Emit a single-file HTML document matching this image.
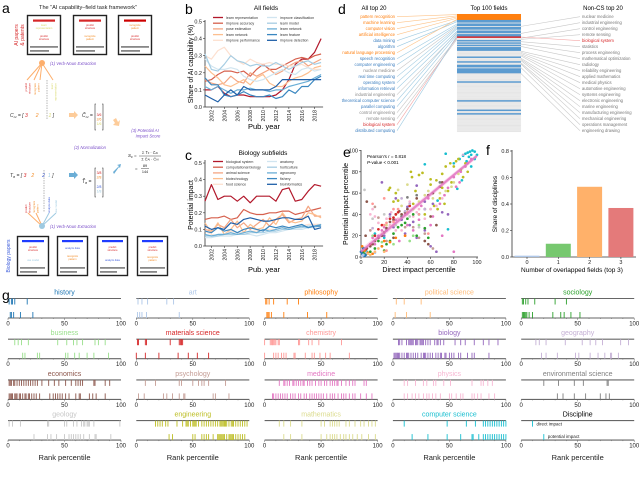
<!DOCTYPE html>
<html><head><meta charset="utf-8">
<style>
html,body{margin:0;padding:0;background:#fff;}
svg{display:block;font-family:"Liberation Sans",sans-serif;}
</style></head>
<body>
<svg id="fig" width="640" height="478" viewBox="0 0 640 478" xmlns="http://www.w3.org/2000/svg">
<!-- Panel letters -->
<text x="2" y="13" font-size="14">a</text>
<text x="185" y="14" font-size="14">b</text>
<text x="185" y="160" font-size="14">c</text>
<text x="338" y="14" font-size="14">d</text>
<text x="343" y="157" font-size="14">e</text>
<text x="486" y="155" font-size="14">f</text>
<text x="2" y="300" font-size="14">g</text>

<!-- Panel a: framework diagram -->
<g id="panelA">
<text x="88" y="9" font-size="5.6" text-anchor="middle" fill="#222">The “AI capability–field task framework”</text>
<text transform="translate(18,35) rotate(-90)" font-size="5" fill="#d62728" text-anchor="middle">AI papers</text>
<text transform="translate(24,35) rotate(-90)" font-size="5" fill="#d62728" text-anchor="middle">&amp; patents</text>
<g>
<rect x="27.5" y="15.5" width="33" height="39" fill="#fff" stroke="#222" stroke-width="1.4"/>
<rect x="33" y="19.5" width="22" height="2.2" fill="#d62728"/>
<text x="44" y="26" font-size="2.6" fill="#d9d96b" text-anchor="middle">learn</text><text x="44" y="29" font-size="2.6" fill="#d9d96b" text-anchor="middle">representation</text>
<text x="44" y="37" font-size="2.6" fill="#d62728" text-anchor="middle">predict</text><text x="44" y="40" font-size="2.6" fill="#d62728" text-anchor="middle">structure</text>
<rect x="30" y="46" width="28" height="1.8" fill="#888"/><rect x="30" y="50" width="19" height="1.8" fill="#888"/>
</g>
<g>
<rect x="73.5" y="15.5" width="33" height="39" fill="#fff" stroke="#222" stroke-width="1.4"/>
<rect x="79" y="19.5" width="22" height="2.2" fill="#d62728"/>
<text x="90" y="26" font-size="2.6" fill="#d62728" text-anchor="middle">predict</text><text x="90" y="29" font-size="2.6" fill="#d62728" text-anchor="middle">structure</text>
<text x="90" y="37" font-size="2.6" fill="#f28e2b" text-anchor="middle">recognize</text><text x="90" y="40" font-size="2.6" fill="#f28e2b" text-anchor="middle">pattern</text>
<rect x="76" y="46" width="28" height="1.8" fill="#888"/><rect x="76" y="50" width="19" height="1.8" fill="#888"/>
</g>
<g>
<rect x="118.5" y="15.5" width="33" height="39" fill="#fff" stroke="#222" stroke-width="1.4"/>
<rect x="124" y="19.5" width="22" height="2.2" fill="#c00"/>
<text x="135" y="26" font-size="2.6" fill="#f28e2b" text-anchor="middle">recognize</text><text x="135" y="29" font-size="2.6" fill="#f28e2b" text-anchor="middle">pattern</text>
<text x="135" y="37" font-size="2.6" fill="#d62728" text-anchor="middle">predict</text><text x="135" y="40" font-size="2.6" fill="#d62728" text-anchor="middle">structure</text>
<rect x="121" y="46" width="28" height="1.8" fill="#888"/><rect x="121" y="50" width="19" height="1.8" fill="#888"/>
</g>
<g stroke="#fdae6b" stroke-width="1">
<line x1="42" y1="63" x2="27" y2="80"/><line x1="42" y1="63" x2="34" y2="80"/><line x1="42" y1="63" x2="40" y2="80"/><line x1="42" y1="63" x2="53" y2="80"/>
</g>
<circle cx="42" cy="63" r="3" fill="#fdae6b"/>
<text x="50" y="65" font-size="4.2" font-style="italic" fill="#7b4fc9">(1) Verb-Noun Extraction</text>
<text transform="translate(27,83) rotate(-90)" font-size="2.8" fill="#d62728" text-anchor="end">predict</text>
<text transform="translate(30.5,83) rotate(-90)" font-size="2.8" fill="#d62728" text-anchor="end">structure</text>
<text transform="translate(36,83) rotate(-90)" font-size="2.8" fill="#f28e2b" text-anchor="end">recognize</text>
<text transform="translate(39.5,83) rotate(-90)" font-size="2.8" fill="#f28e2b" text-anchor="end">pattern</text>
<line x1="47" y1="80" x2="47" y2="120" stroke="#888" stroke-width="0.6" stroke-dasharray="1.5,1"/>
<text transform="translate(53,83) rotate(-90)" font-size="2.8" fill="#d9d96b" text-anchor="end">learn</text>
<text transform="translate(56.5,83) rotate(-90)" font-size="2.8" fill="#d9d96b" text-anchor="end">representation</text>
<text x="10" y="117" font-size="5" font-style="italic" fill="#333">C<tspan font-size="3" dy="1">AI</tspan><tspan dy="-1"> = [ </tspan><tspan fill="#d62728">3</tspan><tspan fill="#f28e2b" dx="8">2</tspan><tspan fill="#d9d96b" dx="10">1</tspan> ]</text>
<polygon points="69,113 74,113 74,111 78,115 74,119 74,117 69,117" fill="#fdcc9a"/>
<text x="82" y="117" font-size="5" font-style="italic" fill="#333">C̃<tspan font-size="3" dy="1">AI</tspan><tspan dy="-1"> =</tspan></text>
<path d="M96,104 h-1 v26 h1 M102,104 h1 v26 h-1" fill="none" stroke="#333" stroke-width="0.6"/>
<text x="99" y="116" font-size="3.4" fill="#d62728" text-anchor="middle">3/6</text>
<text x="99" y="120.5" font-size="3.4" fill="#f28e2b" text-anchor="middle">2/6</text>
<text x="99" y="125" font-size="3.4" fill="#d9d96b" text-anchor="middle">1/6</text>
<polygon points="113,120 116,118 118,122 120,120 119,126 113,125 115,123" fill="#fdcc9a"/>
<text x="145" y="132" font-size="4.2" font-style="italic" fill="#7b4fc9" text-anchor="middle">(3) Potential AI</text>
<text x="148" y="137.5" font-size="4.2" font-style="italic" fill="#7b4fc9" text-anchor="middle">Impact Score</text>
<text x="90" y="149" font-size="4.2" font-style="italic" fill="#7b4fc9" text-anchor="middle">(2) Normalization</text>
<text x="128" y="157" font-size="4.4" font-style="italic" fill="#222">S<tspan font-size="3" dy="1">F</tspan><tspan dy="-1"> = </tspan></text>
<text x="150" y="154" font-size="3.8" fill="#222" text-anchor="middle">Σ T̃<tspan font-size="2.6">F</tspan> · C̃<tspan font-size="2.6">AI</tspan></text>
<line x1="139" y1="156" x2="161" y2="156" stroke="#222" stroke-width="0.4"/>
<text x="150" y="160.5" font-size="3.8" fill="#222" text-anchor="middle">Σ C̃<tspan font-size="2.6">AI</tspan> · C̃<tspan font-size="2.6">AI</tspan></text>
<text x="135" y="170" font-size="4.4" fill="#222">=</text>
<text x="145" y="167" font-size="3.8" fill="#222" text-anchor="middle">89</text>
<line x1="141" y1="168.5" x2="149" y2="168.5" stroke="#222" stroke-width="0.4"/>
<text x="145" y="173" font-size="3.8" fill="#222" text-anchor="middle">144</text>
<text x="10" y="177" font-size="5" font-style="italic" fill="#333">T<tspan font-size="3" dy="1">B</tspan><tspan dy="-1"> = [ </tspan><tspan fill="#d62728">3</tspan><tspan fill="#f28e2b" dx="5">2</tspan><tspan fill="#3b5bdb" dx="8">2</tspan><tspan fill="#9ecae1" dx="3">1</tspan> ]</text>
<line x1="44" y1="170" x2="44" y2="212" stroke="#888" stroke-width="0.6" stroke-dasharray="1.5,1"/>
<polygon points="69,173 74,173 74,171 78,175 74,179 74,177 69,177" fill="#6baed6"/>
<text x="82" y="183" font-size="5" font-style="italic" fill="#333">T̃<tspan font-size="3" dy="1">B</tspan><tspan dy="-1"> =</tspan></text>
<path d="M96,168 h-1 v29 h1 M102,168 h1 v29 h-1" fill="none" stroke="#333" stroke-width="0.6"/>
<text x="99" y="174" font-size="3.4" fill="#d62728" text-anchor="middle">3/8</text>
<text x="99" y="178.5" font-size="3.4" fill="#f28e2b" text-anchor="middle">2/8</text>
<text x="99" y="188" font-size="3.4" fill="#3b5bdb" text-anchor="middle">2/8</text>
<text x="99" y="192.5" font-size="3.4" fill="#9ecae1" text-anchor="middle">1/8</text>
<polygon points="113,172 119,166 117,165 121,164 120,168 119,167 114,174" fill="#6baed6"/>
<text transform="translate(27,213) rotate(-90)" font-size="2.8" fill="#d62728">predict</text>
<text transform="translate(30.5,213) rotate(-90)" font-size="2.8" fill="#d62728">structure</text>
<text transform="translate(35,213) rotate(-90)" font-size="2.8" fill="#f28e2b">recognize</text>
<text transform="translate(38.5,213) rotate(-90)" font-size="2.8" fill="#f28e2b">pattern</text>
<text transform="translate(50,213) rotate(-90)" font-size="2.8" fill="#3b5bdb">analyze data</text>
<text transform="translate(57,213) rotate(-90)" font-size="2.8" fill="#9ecae1">use model</text>
<g stroke-width="1"><line x1="42" y1="226" x2="28" y2="213" stroke="#fdae6b"/><line x1="42" y1="226" x2="36" y2="213" stroke="#fdae6b"/><line x1="42" y1="226" x2="49" y2="213" stroke="#9ecae1"/><line x1="42" y1="226" x2="56" y2="213" stroke="#9ecae1"/></g>
<circle cx="42" cy="226" r="3" fill="#9ecae1"/>
<text x="50" y="228" font-size="4.2" font-style="italic" fill="#7b4fc9">(1) Verb-Noun Extraction</text>
<text transform="translate(10,256) rotate(-90)" font-size="5" fill="#3b5bdb" text-anchor="middle">Biology papers</text>
<g><rect x="17.5" y="236.5" width="31" height="39" fill="#fff" stroke="#222" stroke-width="1.4"/><rect x="22" y="240" width="22" height="2.2" fill="#1f3cff"/><text x="33" y="248" font-size="2.6" fill="#d62728" text-anchor="middle">predict</text><text x="33" y="251" font-size="2.6" fill="#d62728" text-anchor="middle">structure</text><text x="33" y="261" font-size="2.6" fill="#9ecae1" text-anchor="middle">use model</text><rect x="20" y="267" width="25" height="1.8" fill="#888"/><rect x="20" y="271" width="17" height="1.8" fill="#888"/></g>
<g><rect x="57.5" y="236.5" width="30" height="39" fill="#fff" stroke="#222" stroke-width="1.4"/><rect x="62" y="240" width="21" height="2.2" fill="#1f3cff"/><text x="72.5" y="249" font-size="2.6" fill="#3b5bdb" text-anchor="middle">analyze data</text><text x="72.5" y="257" font-size="2.6" fill="#f28e2b" text-anchor="middle">recognize</text><text x="72.5" y="260" font-size="2.6" fill="#f28e2b" text-anchor="middle">pattern</text><rect x="60" y="267" width="25" height="1.8" fill="#888"/><rect x="60" y="271" width="17" height="1.8" fill="#888"/></g>
<g><rect x="97.5" y="236.5" width="30" height="39" fill="#fff" stroke="#222" stroke-width="1.4"/><rect x="102" y="240" width="21" height="2.2" fill="#1f3cff"/><text x="112.5" y="248" font-size="2.6" fill="#d62728" text-anchor="middle">predict</text><text x="112.5" y="251" font-size="2.6" fill="#d62728" text-anchor="middle">structure</text><text x="112.5" y="261" font-size="2.6" fill="#3b5bdb" text-anchor="middle">analyze data</text><rect x="100" y="267" width="25" height="1.8" fill="#888"/><rect x="100" y="271" width="17" height="1.8" fill="#888"/></g>
<g><rect x="137.5" y="236.5" width="30" height="39" fill="#fff" stroke="#222" stroke-width="1.4"/><rect x="142" y="240" width="21" height="2.2" fill="#1f3cff"/><text x="152.5" y="248" font-size="2.6" fill="#d62728" text-anchor="middle">predict</text><text x="152.5" y="251" font-size="2.6" fill="#d62728" text-anchor="middle">structure</text><text x="152.5" y="258" font-size="2.6" fill="#f28e2b" text-anchor="middle">recognize</text><text x="152.5" y="261" font-size="2.6" fill="#f28e2b" text-anchor="middle">pattern</text><rect x="140" y="267" width="25" height="1.8" fill="#888"/><rect x="140" y="271" width="17" height="1.8" fill="#888"/></g>
</g>

<!-- static titles -->
<text x="266" y="10" font-size="6.5" text-anchor="middle">All fields</text>
<text x="264" y="129" font-size="7.5" text-anchor="middle">Pub. year</text>
<text transform="translate(193,64) rotate(-90)" font-size="7" text-anchor="middle">Share of AI capability (%)</text>
<text x="263" y="155" font-size="6.5" text-anchor="middle">Biology subfields</text>
<text x="264" y="272" font-size="7.5" text-anchor="middle">Pub. year</text>
<text transform="translate(193,205) rotate(-90)" font-size="7" text-anchor="middle">Potential impact</text>
<text x="374" y="10" font-size="6" text-anchor="middle">All top 20</text>
<text x="489" y="10" font-size="6" text-anchor="middle">Top 100 fields</text>
<text x="603" y="10" font-size="6" text-anchor="middle">Non-CS top 20</text>
<text x="419" y="272" font-size="7" text-anchor="middle">Direct impact percentile</text>
<text transform="translate(348,204) rotate(-90)" font-size="7" text-anchor="middle">Potential impact percentile</text>
<text x="367" y="158" font-size="4.5">Pearson's <tspan font-style="italic">r</tspan> = 0.818</text>
<text x="367" y="164" font-size="4.5"><tspan font-style="italic">P</tspan>-value &lt; 0.001</text>
<text x="572" y="272" font-size="6.5" text-anchor="middle">Number of overlapped fields (top 3)</text>
<text transform="translate(497,204) rotate(-90)" font-size="6.5" text-anchor="middle">Share of disciplines</text>
<g id="dyn"></g>
</svg>
<script>
// ---------- Panel b data ----------
const years = [2001,2002,2003,2004,2005,2006,2007,2008,2009,2010,2011,2012,2013,2014,2015,2016,2017,2018,2019];
const yearTicks = [2002,2004,2006,2008,2010,2012,2014,2016,2018];
const shareTicks = [0.0,0.1,0.2,0.3,0.4,0.5];
const bNames = ["learn representation","improve accuracy","pose estimation","learn network","improve performance","improve classification","learn model","learn network","learn feature","improve detection"];
const bColors = ["#b2182b","#d6604d","#f4a582","#fdbf8f","#fde0d0","#d1e5f0","#a6cde3","#6aaed6","#3a87c0","#1f5fa8"];
const b0 = [0.10,0.10,0.12,0.08,0.06,0.07,0.07,0.06,0.06,0.06,0.06,0.07,0.10,0.16,0.25,0.28,0.28,0.32,0.40];
const b1 = [0.15,0.16,0.19,0.21,0.21,0.20,0.21,0.18,0.22,0.25,0.22,0.22,0.24,0.26,0.28,0.29,0.28,0.30,0.31];
const b2 = [0.16,0.14,0.13,0.14,0.18,0.15,0.14,0.20,0.18,0.20,0.22,0.19,0.21,0.24,0.26,0.27,0.24,0.26,0.28];
const b3 = [0.24,0.20,0.17,0.13,0.12,0.14,0.16,0.13,0.17,0.19,0.14,0.12,0.12,0.15,0.17,0.18,0.20,0.23,0.24];
const b4 = [0.30,0.28,0.33,0.35,0.30,0.27,0.25,0.28,0.26,0.25,0.26,0.25,0.25,0.24,0.24,0.25,0.23,0.22,0.22];
const b5 = [0.28,0.24,0.22,0.22,0.23,0.22,0.18,0.16,0.15,0.16,0.18,0.20,0.22,0.20,0.19,0.22,0.23,0.21,0.22];
const b6 = [0.31,0.22,0.21,0.25,0.30,0.27,0.26,0.24,0.25,0.24,0.24,0.26,0.24,0.22,0.24,0.26,0.27,0.25,0.26];
const b7 = [0.12,0.10,0.12,0.10,0.08,0.10,0.10,0.11,0.10,0.10,0.09,0.10,0.10,0.12,0.13,0.14,0.15,0.17,0.19];
const b8 = [0.17,0.13,0.13,0.07,0.06,0.07,0.09,0.07,0.06,0.06,0.07,0.05,0.06,0.10,0.08,0.12,0.12,0.16,0.18];
const b9 = [0.07,0.05,0.03,0.07,0.10,0.07,0.12,0.10,0.10,0.10,0.10,0.12,0.16,0.16,0.16,0.16,0.16,0.16,0.16];
const bSeries = [b0,b1,b2,b3,b4,b5,b6,b7,b8,b9];
// ---------- Panel c data ----------
const cNames = ["biological system","computational biology","animal science","biotechnology","food science","anatomy","horticulture","agronomy","fishery","bioinformatics"];
const c0 = [0.27,0.37,0.28,0.30,0.30,0.27,0.30,0.26,0.30,0.30,0.30,0.27,0.34,0.35,0.27,0.28,0.33,0.37,0.36];
const c1 = [0.16,0.17,0.17,0.18,0.16,0.17,0.22,0.20,0.19,0.19,0.20,0.20,0.21,0.21,0.19,0.20,0.21,0.22,0.23];
const c2 = [0.10,0.09,0.13,0.11,0.16,0.11,0.14,0.10,0.13,0.16,0.12,0.16,0.19,0.14,0.16,0.17,0.24,0.18,0.18];
const c3 = [0.14,0.08,0.14,0.07,0.10,0.15,0.08,0.13,0.10,0.11,0.17,0.13,0.20,0.15,0.14,0.15,0.20,0.19,0.17];
const c4 = [0.09,0.07,0.06,0.07,0.09,0.08,0.08,0.09,0.09,0.10,0.10,0.10,0.11,0.11,0.12,0.12,0.13,0.13,0.13];
const c5 = [0.05,0.05,0.06,0.06,0.06,0.07,0.07,0.07,0.06,0.07,0.08,0.08,0.09,0.10,0.10,0.10,0.11,0.11,0.12];
const c6 = [0.06,0.06,0.06,0.07,0.07,0.07,0.07,0.08,0.08,0.08,0.09,0.09,0.10,0.10,0.11,0.11,0.12,0.12,0.13];
const c7 = [0.07,0.06,0.07,0.07,0.08,0.07,0.08,0.09,0.08,0.10,0.09,0.10,0.11,0.10,0.11,0.12,0.11,0.12,0.13];
const c8 = [0.09,0.08,0.11,0.09,0.10,0.08,0.10,0.11,0.10,0.09,0.12,0.11,0.12,0.11,0.12,0.13,0.11,0.12,0.12];
const c9 = [0.12,0.10,0.11,0.10,0.14,0.13,0.16,0.17,0.16,0.15,0.15,0.16,0.17,0.17,0.16,0.16,0.18,0.10,0.11];
const cSeries = [c0,c1,c2,c3,c4,c5,c6,c7,c8,c9];
// ---------- Panel d data ----------
const allTop20 = ["pattern recognition","machine learning","computer vision","artificial intelligence","data mining","algorithm","natural language processing","speech recognition","computer engineering","nuclear medicine","real time computing","operating system","information retrieval","industrial engineering","theoretical computer science","parallel computing","control engineering","remote sensing","biological system","distributed computing"];
const allTop20Type = ["ai","ai","ai","ai","cs","cs","ai","cs","cs","other","cs","cs","cs","other","cs","cs","other","other","bio","cs"];
const allTop20Rank = [0,1,2,3,5,6,4,8,9,10,11,12,14,16,15,17,20,21,19,18];
const nonCsTop20 = ["nuclear medicine","industrial engineering","control engineering","remote sensing","biological system","statistics","process engineering","mathematical optimization","radiology","reliability engineering","applied mathematics","medical physics","automotive engineering","systems engineering","electronic engineering","marine engineering","manufacturing engineering","mechanical engineering","operations management","engineering drawing"];
const nonCsRank = [10,16,20,21,19,23,25,27,31,32,33,34,35,37,38,39,41,42,45,50];
const aiRows = [0,1,2,3,4];
const csRows = [5,6,8,9,11,12,14,15,17,18,22,24,26,28,29,30,36,40,43,44,46,47,48,49,57,73,81,84];
const bioRows = [19];
// ---------- Panel e data (direct, potential, discipline index) ----------
const eDirect = [], ePotential = [], eDisc = [];
const ePts = [
[88,95,18],[90,97,18],[92,98,18],[94,99,18],[96,100,18],[98,99,18],[95,96,18],[93,94,18],[85,92,18],[73,97,18],[80,88,18],[55,87,18],[66,53,18],[87,72,18],[50,40,18],[75,26,18],[5,5,18],[2,2,18],[3,8,18],[1,3,18],[12,22,18],[20,18,18],[95,85,18],[98,92,18],[83,64,18],[91,90,18],[100,96,18],
[43,80,16],[44,75,16],[50,77,16],[53,79,16],[60,73,16],[60,68,16],[65,72,16],[70,78,16],[73,85,16],[77,88,16],[80,85,16],[82,90,16],[84,92,16],[86,82,16],[78,70,16],[75,62,16],[68,55,16],[66,45,16],[55,40,16],[47,62,16],[45,50,16],[30,60,16],[32,53,16],[25,65,16],[24,63,16],[28,52,16],[70,65,16],[88,75,16],[90,88,16],[92,80,16],[72,50,16],[63,48,16],
[32,63,17],[40,68,17],[55,58,17],[58,62,17],[62,55,17],[68,60,17],[73,62,17],[78,66,17],[84,78,17],[90,85,17],[35,48,17],[45,45,17],[50,52,17],[22,30,17],[60,45,17],[80,70,17],
[18,70,8],[30,55,8],[48,67,8],[55,52,8],[62,50,8],[70,42,8],[75,40,8],[40,47,8],[35,35,8],[45,33,8],[38,22,8],[48,18,8],[55,25,8],[60,10,8],[65,5,8],[42,30,8],[28,28,8],[22,25,8],[25,40,8],[20,20,8],
[90,85,12],[92,88,12],[80,75,12],[86,80,12],[85,70,12],[82,66,12],[75,65,12],[72,58,12],[68,50,12],[58,55,12],[55,45,12],[50,35,12],[40,30,12],[38,40,12],[30,35,12],[20,28,12],[18,25,12],[15,20,12],[10,18,12],[12,12,12],[60,30,12],[45,25,12],[33,15,12],[80,5,12],[70,20,12],[52,48,12],[62,38,12],[95,92,12],
[25,30,13],[30,25,13],[35,38,13],[40,40,13],[45,38,13],[42,52,13],[50,45,13],[55,36,13],[60,45,13],[65,48,13],[70,55,13],[10,45,13],[8,40,13],[12,38,13],[8,25,13],[15,32,13],[22,36,13],[26,42,13],[32,36,13],[38,20,13],[28,30,13],[35,25,13],[48,42,13],[18,22,13],
[2,5,10],[5,8,10],[8,10,10],[10,12,10],[12,15,10],[15,18,10],[18,20,10],[20,23,10],[22,27,10],[25,33,10],[28,35,10],[30,40,10],[33,43,10],[35,40,10],[38,42,10],[40,45,10],[48,55,10],[58,58,10],[62,60,10],[68,66,10],[70,70,10],[60,38,10],[5,52,10],[65,30,10],[55,15,10],[58,12,10],[4,20,10],[28,18,10],
[15,37,11],[12,47,11],[8,25,11],[45,28,11],[50,18,11],[55,22,11],[38,28,11],[22,15,11],[62,8,11],
[1,2,4],[2,4,4],[4,3,4],[3,6,4],[8,5,4],[12,8,4],[18,10,4],[22,12,4],[25,15,4],[28,22,4],[32,28,4],[35,30,4],[38,32,4],[40,36,4],[45,40,4],[48,20,4],[55,27,4],[58,18,4],[20,6,4],[15,15,4],
[10,20,5],[18,14,5],[28,12,5],[45,20,5],[50,30,5],[42,15,5],[30,40,5],
[1,1,6],[4,7,6],[8,12,6],[12,20,6],[15,26,6],[18,30,6],[25,36,6],[28,37,6],[30,40,6],[32,42,6],[42,48,6],
[20,30,7],[22,32,7],[28,33,7],[32,45,7],[40,42,7],[50,40,7],[10,50,7],[20,55,7],[28,45,7],[58,22,7],[22,6,7],
[1,3,0],[2,8,0],[3,1,0],[0,5,0],[4,2,0],
[1,1,1],[2,2,1],[5,4,1],[12,4,1],
[1,10,2],[3,6,2],[6,4,2],[10,3,2],[18,10,2],[25,14,2],[30,18,2],[38,20,2],[20,15,2],
[6,3,3],[8,2,3],[12,5,3],[20,5,3],[15,8,3],
[40,56,14],[48,58,14],[55,45,14],[35,38,14],[68,70,14],
[3,63,15],[10,36,15],[20,40,15],[42,38,15],[30,30,15],[50,28,15],
[10,27,9],[38,43,9],[42,50,9],[55,45,9],[25,38,9],[35,55,9],[88,96,9]];
ePts.forEach(p=>{eDirect.push(p[0]);ePotential.push(p[1]);eDisc.push(p[2]);});
const regIntercept = 5, regSlope = 0.9;
const pctTicks = [0,20,40,60,80,100];
// ---------- Panel f data ----------
const fCats = ["0","1","2","3"];
const fVals = [0.01,0.10,0.53,0.37];
const fColors = ["#aec7e8","#77c86f","#ffb16a","#e47a7a"];
const fTicks = [0.0,0.2,0.4,0.6,0.8];
// ---------- Panel g data ----------
const gNames = ["history","art","philosophy","political science","sociology","business","materials science","chemistry","biology","geography","economics","psychology","medicine","physics","environmental science","geology","engineering","mathematics","computer science","Discipline"];
const gColors = ["#1f77b4","#aec7e8","#ff7f0e","#ffbb78","#2ca02c","#98df8a","#d62728","#ff9896","#9467bd","#c5b0d5","#8c564b","#c49c94","#e377c2","#f7b6d2","#7f7f7f","#c7c7c7","#bcbd22","#dbdb8d","#17becf","#000000"];
const gDirect = [
[1,3,4,6,17],[1.5,5,10,27,33],[1,2,4,8,20,30],[3,10,25],[1,2,4,6,12,30,40],
[6,9,12,18,44,52,58,61,66,77,80,86],[1,2,8,9,30,38,39,40,41],[0,5,6,7,8,9,10,12,13,30,31,39,42,48,68],[5,6,8,12,14,15,16,17,18,20,21,22,24,25,26,27,29,31,33,37,39,40,42,45,55,60,64,72,80,85,93],[13,16,22,39,54,61,66,72,88,95],
[1,2,3,5,6,8,10,12,14,16,18,20,22,24,26,30,36,41,45,51,56,60,62,64,66,76,77,86,90],[8,17,38,40,50,55,58,60,64,79],[13,17,18,20,22,25,26,28,30,32,34,35,38,40,42,45,48,50,53,55,58,60,62,64,65,68,72,75,78,80,88,90],[10,13,20,27,30,36,38,45,51,70,78,80,84,88],[20,33,47,55,76,77],
[1,4,11,35,36,50,52,58,61,65,67,68,70,71,72,76,99],[17,19,21,23,26,28,36,41,44,45,46,48,50,51,52,53,55,58,60,62,64,66,68,70,72,74,75,76,77,78,79,80,82,84,85,86,88,90,92,94,96,98],[13,17,23,33,50,53,58,60,62,64,66,72,75,80,85,88,92,95,98],[10,48,65,73,80,82,84,86,88,90,92,94,96,98,100],[10]];
const gPotential = [
[2,3,5,11,22],[1,3,5,9,38],[2,3,4,6,17,38,55],[2,12,33],[1,2,3,4,5,7,10,28,35,38,44,52],
[13,15,26,28,51,53,59,63,70,76,89],[0,8,20,37,46,54,64],[0,8,10,12,15,17,19,26,27,36,42,44,49,54,58,75],[1,2,3,4,5,6,8,10,12,13,14,16,18,20,22,25,27,28,29,31,33,35,38,40,42,43,46,47,50,52,54,58,60,66,70,72,85],[18,22,32,48,51,61,68,74,79,80,86],
[1,2,3,4,6,7,8,10,11,13,15,16,18,19,21,23,25,28,37,40,42,44,46,48,51,54,60,63,64,72,75,78,86],[2,7,24,27,32,38,42,43,68,70,82],[7,8,10,12,14,16,18,20,23,25,27,30,32,35,37,40,42,44,46,48,50,52,55,58,60,62,65,68,70,72,75,78,80,85,90,95],[10,13,17,20,23,27,30,32,35,38,42,50,52,56,60,62,70,72,75,78,85,90],[32,37,47,57,70,75,78],
[23,35,38,43,50,54,56,58,60,62,64,67,72,77,78,91],[29,32,50,52,58,60,62,64,68,72,73,74,75,76,77,78,80,82,83,84,85,86,88,90,92,94,96],[17,23,33,50,55,58,60,62,64,67,70,72,75,78,82,86,92,98],[17,31,48,60,70,71,76,80,82,84,86,88,90,92,94,96,98,100],[20]];
const rankTicks = [0,50,100];

// ---------- drawing helpers ----------
const NS = "http://www.w3.org/2000/svg";
const root = document.getElementById("dyn");
function mk(tag, attrs, parent){
  const e = document.createElementNS(NS, tag);
  for (const k in attrs) e.setAttribute(k, attrs[k]);
  (parent||root).appendChild(e);
  return e;
}
function txt(x,y,s,size,anchor,fill,parent){
  const t = mk("text",{x:x,y:y,"font-size":size,"text-anchor":anchor||"start",fill:fill||"#222"},parent);
  t.textContent = s;
  return t;
}

// ---------- line charts b & c ----------
function lineChart(opts){
  const xs = y => opts.x0 + (y - 2001) * 6.45;
  const ys = v => opts.yBase - v * opts.yPer;
  const g = mk("g",{});
  
  
  const ax = mk("path",{d:`M${opts.x0},${opts.yTop} V${opts.yBase} H${xs(2019)+2}`,fill:"none",stroke:"#333","stroke-width":0.8},g);
  
  
  shareTicks.forEach(v=>{
    mk("line",{x1:opts.x0-2,x2:opts.x0,y1:ys(v),y2:ys(v),stroke:"#333","stroke-width":0.6},g);
    const t = txt(opts.x0-3, ys(v)+2, v.toFixed(1), 5.5, "end", "#222", g);
    
    
  });
  yearTicks.forEach(yr=>{
    mk("line",{x1:xs(yr),x2:xs(yr),y1:opts.yBase,y2:opts.yBase+2,stroke:"#333","stroke-width":0.6},g);
    const t = mk("text",{transform:`translate(${xs(yr)+2},${opts.yBase+3}) rotate(-90)`,"font-size":5.2,"text-anchor":"end",fill:"#222"},g);
    t.textContent = yr;
    
    
  });
  opts.series.forEach((s,i)=>{
    const d = s.map((v,j)=>(j?"L":"M")+xs(years[j]).toFixed(1)+","+ys(v).toFixed(1)).join(" ");
    const p = mk("path",{d:d,fill:"none",stroke:bColors[i],"stroke-width":1.2,"stroke-linejoin":"round"},g);
    
    
  });
  opts.names.forEach((n,i)=>{
    const col = i<5?0:1, row = i%5;
    const lx = col? opts.x0+62 : opts.x0+8;
    const ly = opts.legY + row*5.7;
    mk("line",{x1:lx,x2:lx+10,y1:ly,y2:ly,stroke:bColors[i],"stroke-width":1.3},g);
    const t = txt(lx+13, ly+1.3, n, 3.6, "start", "#333", g);
    
    
  });
}
lineChart({name:"all-fields-chart",x0:205,yBase:107,yTop:20,yPer:171,series:bSeries,names:bNames,legY:17.5});
lineChart({name:"biology-subfields-chart",x0:205,yBase:246,yTop:160,yPer:166,series:cSeries,names:cNames,legY:161.5});

// ---------- panel d ----------
const dG = mk("g",{});


const typeColor = {ai:"#ff7f0e",cs:"#3a7dbf",other:"#888",bio:"#d62728"};
const typeLine = {ai:"#fdc48a",cs:"#9ecae1",other:"#c8c8c8",bio:"#f4a6a6"};
const barX = 457, barW = 64, barY = 14, rowH = 1.18;
const rowY = r => barY + r*rowH + rowH/2;
for(let r=0;r<100;r++){
  const rr = mk("rect",{x:barX,y:barY+r*rowH,width:barW,height:rowH,fill:"#e4e4e4",stroke:"#f4f4f4","stroke-width":0.2},dG);
  
  
}
[[aiRows,"#ff7f0e"],[csRows,"#5b9bd0"],[bioRows,"#d62728"]].forEach(([rows,c])=>{
  rows.forEach(r=>{
    const rr = mk("rect",{x:barX,y:barY+r*rowH,width:barW,height:rowH+0.3,fill:c},dG);
    
    
  });
});
allTop20.forEach((n,i)=>{
  const ly = 16.7 + i*6.0;
  const t = txt(395, ly+1.5, n, 4.2, "end", typeColor[allTop20Type[i]], dG);
  
  
  mk("line",{x1:397,y1:ly,x2:barX,y2:rowY(allTop20Rank[i]),stroke:typeLine[allTop20Type[i]],"stroke-width":0.6},dG);
});
nonCsTop20.forEach((n,i)=>{
  const ly = 16.7 + i*6.0;
  const isBio = n==="biological system";
  const t = txt(582, ly+1.5, n, 4.2, "start", isBio?"#d62728":"#777", dG);
  
  
  mk("line",{x1:barX+barW,y1:rowY(nonCsRank[i]),x2:580,y2:ly,stroke:isBio?"#f4a6a6":"#c8c8c8","stroke-width":0.6},dG);
});

// ---------- panel e ----------
const eG = mk("g",{});


const ex = v => 361 + v*1.16, ey = v => 257 - v*1.065;
mk("path",{d:`M361,150 V257 H478`,fill:"none",stroke:"#333","stroke-width":0.8},eG);
pctTicks.forEach(v=>{
  mk("line",{x1:ex(v),x2:ex(v),y1:257,y2:259,stroke:"#333","stroke-width":0.6},eG);
  const t1 = txt(ex(v),264,String(v),5.5,"middle","#222",eG);
  
  
  mk("line",{x1:359,x2:361,y1:ey(v),y2:ey(v),stroke:"#333","stroke-width":0.6},eG);
  const t2 = txt(358,ey(v)+2,String(v),5.5,"end","#222",eG);
  
  
});
const band = mk("path",{d:`M${ex(0)},${ey(regIntercept+3)} L${ex(100)},${ey(regIntercept+regSlope*100+2)} L${ex(100)},${ey(regIntercept+regSlope*100-2)} L${ex(0)},${ey(regIntercept-3)} Z`,fill:"#f6c6e6",opacity:0.7},eG);


for(let i=0;i<eDirect.length;i++){
  const c = mk("circle",{cx:ex(eDirect[i]).toFixed(1),cy:ey(ePotential[i]).toFixed(1),r:1.35,fill:gColors[eDisc[i]]},eG);
  
  
}
const reg = mk("line",{x1:ex(0),y1:ey(regIntercept),x2:ex(100),y2:ey(regIntercept+regSlope*100),stroke:"#e377c2","stroke-width":2.2,opacity:0.85},eG);



// ---------- panel f ----------
const fG = mk("g",{});


const fx = i => 527 + i*31.3, fy = v => 257 - v*132.5;
mk("path",{d:`M512,150 V257 H636`,fill:"none",stroke:"#333","stroke-width":0.8},fG);
fTicks.forEach(v=>{
  mk("line",{x1:510,x2:512,y1:fy(v),y2:fy(v),stroke:"#333","stroke-width":0.6},fG);
  const t = txt(509,fy(v)+2,v.toFixed(1),5.5,"end","#222",fG);
  
  
});
fCats.forEach((c,i)=>{
  const b = mk("rect",{x:fx(i)-12.5,y:fy(fVals[i]),width:25,height:257-fy(fVals[i]),fill:fColors[i]},fG);
  
  
  mk("line",{x1:fx(i),x2:fx(i),y1:257,y2:259,stroke:"#333","stroke-width":0.6},fG);
  const t = txt(fx(i),264,c,5.5,"middle","#222",fG);
  
  
});

// ---------- panel g ----------
const gG = mk("g",{});


gNames.forEach((n,k)=>{
  const col = k%5, row = Math.floor(k/5);
  const x0 = 8 + col*128.3, W = 113;
  const gx = v => x0 + v/100*W;
  const base = 292 + row*40.7;
  const sg = mk("g",{},gG);
  
  
  const tt = txt(x0+W/2, base+2.5, n, 7, "middle", gColors[k], sg);
  
  
  const a1 = base+6.5, a2 = base+26;
  mk("line",{x1:x0,x2:x0+W,y1:a1,y2:a1,stroke:"#666","stroke-width":1.1},sg);
  mk("line",{x1:x0,x2:x0+W,y1:a2,y2:a2,stroke:"#666","stroke-width":1.1},sg);
  const barCol = k===19 ? "#17becf" : gColors[k];
  gDirect[k].forEach(v=>{
    const l = mk("line",{x1:gx(v),x2:gx(v),y1:a1,y2:a1+6,stroke:barCol,"stroke-width":0.9},sg);
    
    
  });
  gPotential[k].forEach(v=>{
    const l = mk("line",{x1:gx(v),x2:gx(v),y1:a2-6,y2:a2,stroke:barCol,"stroke-width":0.9},sg);
    
    
  });
  for(let v=0; v<=100; v+=10){
    mk("line",{x1:gx(v),x2:gx(v),y1:a2,y2:a2+(v%50===0?2:1),stroke:"#666","stroke-width":0.5},sg);
  }
  rankTicks.forEach(v=>{
    const t = txt(gx(v), base+33.5, String(v), 6, "middle", "#222", sg);
    
    
  });
  if(k===19){
    const d1 = txt(gx(10)+4, a1+5, "direct impact", 4.5, "start", "#222", sg);
    
    
    const d2 = txt(gx(20)+4, a2-2, "potential impact", 4.5, "start", "#222", sg);
    
    
  }
  if(row===3){
    const rp = txt(x0+W/2, 460, "Rank percentile", 7.5, "middle", "#222", sg);
    
    
  }
});
</script>
</body></html>
